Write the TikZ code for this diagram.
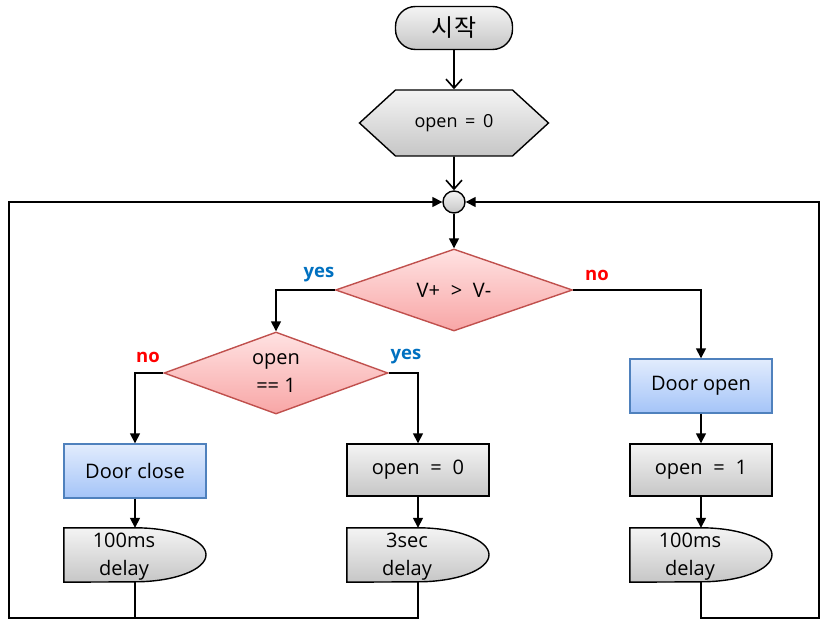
\documentclass[tikz,border=0pt]{standalone}
\usepackage{fontspec}
\setmainfont{Open Sans}
\newfontfamily\krfont{Noto Sans CJK KR}
\usetikzlibrary{arrows.meta,shapes.geometric,shapes.symbols,backgrounds}
\definecolor{GrayTop}{HTML}{F4F4F4}
\definecolor{GrayBot}{HTML}{C6C6C6}
\definecolor{BlueTop}{HTML}{E2ECFD}
\definecolor{BlueBot}{HTML}{A4C4F8}
\definecolor{BlueLine}{HTML}{4F81BD}
\definecolor{PinkTop}{HTML}{FFE2E2}
\definecolor{PinkBot}{HTML}{F8A6A6}
\definecolor{PinkLine}{HTML}{C0504D}
\definecolor{YesBlue}{HTML}{0070C0}
\definecolor{NoRed}{HTML}{FF0000}
\tikzset{
  txt/.style={font=\fontsize{20}{28}\selectfont,align=center},
  terminal/.style={draw=black,top color=GrayTop,bottom color=GrayBot,line width=1.4pt,rectangle,rounded corners=20pt,minimum width=117,minimum height=43},
  prep/.style={draw=black,top color=GrayTop,bottom color=GrayBot,line width=1.4pt,signal,signal to=west and east,signal pointer angle=85,minimum width=189,minimum height=66,inner sep=0pt},
  joint/.style={draw=black,top color=GrayTop,bottom color=GrayBot,line width=1.4pt,circle,minimum size=22,inner sep=0pt},
  decision/.style={txt,draw=PinkLine,top color=PinkTop,bottom color=PinkBot,line width=1.4pt,diamond,aspect=2.7,inner sep=0pt,minimum height=82},
  graybox/.style={txt,draw=black,top color=GrayTop,bottom color=GrayBot,line width=1.4pt,minimum width=142,minimum height=52},
  bluebox/.style={txt,draw=BlueLine,top color=BlueTop,bottom color=BlueBot,line width=1.4pt,minimum width=142,minimum height=54},
  delay/.style={txt,minimum width=142,minimum height=54,inner sep=0pt},
  delayshape/.style={draw=black,top color=GrayTop,bottom color=GrayBot,line width=1.4pt},
  yeslbl/.style={text=YesBlue,font=\fontsize{18.5}{20}\selectfont\bfseries},
  nolbl/.style={text=NoRed,font=\fontsize{18.5}{20}\selectfont\bfseries},
  flow/.style={-{Triangle[length=10pt,width=10pt]},line width=1.6pt},
  openflow/.style={-{Straight Barb[length=9pt,width=16pt]},line width=1.6pt},
  loopline/.style={line width=1.6pt}
}
\newcommand{\dl}{\hspace*{22pt}}
\begin{document}
\begin{tikzpicture}[x=1pt,y=-1pt]
  \useasboundingbox (0,0) rectangle (828,631);
  % main column
  \node[terminal,font=\krfont\fontsize{24}{26}\selectfont] (start) at (454,28) {시작};
  \node[prep,font=\fontsize{18}{20}\selectfont] (init) at (454,123) {open \,=\, 0};
  \node[joint] (join) at (454,202) {};
  \node[decision,minimum width=237] (cmp) at (454,290) {V+ \;>\; V-};
  \node[decision,minimum width=224] (chk) at (276,373) {open\\== 1};
  % left branch
  \node[bluebox] (close) at (135,471) {Door close};
  \node[delay] (d1) at (135,555) {\rule{0pt}{17pt}100ms\dl\\delay\dl};
  % middle branch
  \node[graybox] (set0) at (418,470) {open \;=\; 0};
  \node[delay] (d2) at (418,555) {\rule{0pt}{17pt}3sec\dl\\delay\dl};
  % right branch
  \node[bluebox] (opendoor) at (701,386) {Door open};
  \node[graybox] (set1) at (701,470) {open \;=\; 1};
  \node[delay] (d3) at (701,555) {\rule{0pt}{17pt}100ms\dl\\delay\dl};
  \begin{scope}[on background layer]
    \foreach \d in {d1,d2,d3}
      \draw[delayshape] (\d.north west) -- (\d.north) arc[start angle=90,end angle=-90,x radius=71pt,y radius=27pt] -- (\d.south west) -- cycle;
  \end{scope}
  % labels
  \node[yeslbl] (y1) at (319,275) {yes};
  \node[nolbl] (n1) at (597,275) {no};
  \node[nolbl] (n2) at (148,357) {no};
  \node[yeslbl] (y2) at (406,357) {yes};
  % connectors
  \coordinate (lb) at (9,618);
  \coordinate (rb) at (819,618);
  \draw[openflow] (start) -- (init);
  \draw[openflow] (init) -- (join);
  \draw[flow] (join) -- (cmp);
  \draw[flow] (cmp.west) -| (chk.north);
  \draw[flow] (cmp.east) -| (opendoor.north);
  \draw[flow] (chk.west) -| (close.north);
  \draw[flow] (chk.east) -| (set0.north);
  \draw[flow] (close) -- (d1);
  \draw[flow] (set0) -- (d2);
  \draw[flow] (opendoor) -- (set1);
  \draw[flow] (set1) -- (d3);
  \draw[flow] (d1.south) |- (lb) |- (join.west);
  \draw[loopline] (d2.south) |- (lb);
  \draw[flow] (d3.south) |- (rb) |- (join.east);
\end{tikzpicture}
\end{document}
